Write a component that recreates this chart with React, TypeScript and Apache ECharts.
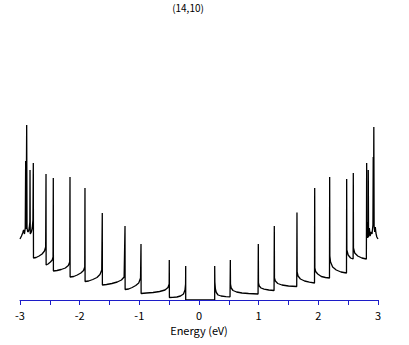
import React, { useEffect, useRef } from "react";
import * as echarts from "echarts";

const chartTitle = "(14,10)";
const axisTitle = "Energy (eV)";
const tickValues = [-3, -2.5, -2, -1.5, -1, -0.5, 0, 0.5, 1, 1.5, 2, 2.5, 3];

// Valence side: [energy (eV), DOS (arb. units)]
const valenceBand: number[][] = [
  [-3.0, 61], [-2.975, 64], [-2.955, 67], [-2.94, 70], [-2.925, 66], [-2.912, 72],
  [-2.905, 72], [-2.905, 139], [-2.898, 71], [-2.888, 71], [-2.888, 175], [-2.882, 72],
  [-2.87, 68], [-2.855, 69], [-2.845, 72], [-2.835, 78], [-2.832, 130], [-2.828, 66],
  [-2.81, 68], [-2.795, 72], [-2.783, 80], [-2.777, 137], [-2.774, 42],
  [-2.73, 42.5], [-2.68, 44], [-2.63, 46], [-2.59, 49], [-2.57, 53], [-2.564, 126], [-2.562, 35],
  [-2.53, 36], [-2.49, 38], [-2.46, 40], [-2.446, 43], [-2.442, 122], [-2.44, 29],
  [-2.38, 29.5], [-2.31, 30.5], [-2.24, 32], [-2.19, 34.5], [-2.167, 38], [-2.162, 123], [-2.16, 23],
  [-2.1, 23.5], [-2.04, 25], [-1.98, 27], [-1.935, 29.5], [-1.915, 33], [-1.911, 112], [-1.909, 18.5],
  [-1.85, 19], [-1.78, 20.5], [-1.71, 22.5], [-1.66, 25.5], [-1.63, 30], [-1.621, 87], [-1.619, 15],
  [-1.55, 15.5], [-1.46, 16.5], [-1.37, 18], [-1.3, 20], [-1.255, 23], [-1.24, 74], [-1.238, 10.5],
  [-1.18, 11], [-1.12, 12.5], [-1.06, 14.5], [-1.01, 17], [-0.98, 22], [-0.972, 56], [-0.97, 6.5],
  [-0.88, 7], [-0.77, 7.5], [-0.66, 8.5], [-0.57, 10], [-0.52, 12.5], [-0.5, 16], [-0.498, 40], [-0.496, 2.5],
  [-0.44, 2.7], [-0.37, 3], [-0.31, 4], [-0.26, 6], [-0.235, 10], [-0.225, 16], [-0.223, 34], [-0.223, 0],
];

// Band gap
const gapBand: number[][] = [
  [-0.223, 0], [0.263, 0],
];

// Conduction side
const conductionBand: number[][] = [
  [0.263, 0], [0.263, 34], [0.266, 18], [0.275, 11], [0.29, 7.5], [0.32, 5], [0.37, 4], [0.45, 3.3], [0.52, 3.2],
  [0.525, 3.2], [0.525, 40], [0.528, 16], [0.54, 12], [0.57, 9.5], [0.63, 8], [0.72, 7], [0.83, 6.5], [0.99, 6],
  [0.994, 6], [0.994, 56], [0.997, 17], [1.01, 14], [1.04, 12], [1.09, 10.8], [1.17, 10], [1.258, 9.5],
  [1.262, 9.5], [1.262, 74], [1.265, 22], [1.28, 19], [1.32, 16.5], [1.39, 15], [1.5, 14], [1.638, 13.5],
  [1.642, 13.5], [1.642, 87.5], [1.645, 28], [1.66, 24], [1.7, 21], [1.77, 19], [1.85, 17.8], [1.936, 17],
  [1.939, 17], [1.939, 112], [1.942, 32], [1.955, 28.5], [1.99, 26], [2.05, 23.5], [2.12, 22.5], [2.187, 22],
  [2.19, 22], [2.19, 123], [2.193, 44], [2.205, 38], [2.24, 33], [2.3, 30], [2.38, 28], [2.472, 27],
  [2.475, 27], [2.475, 121], [2.478, 50], [2.5, 45], [2.54, 42], [2.583, 41],
  [2.586, 41], [2.586, 127], [2.589, 52], [2.61, 47], [2.66, 44], [2.73, 42], [2.805, 41],
  [2.81, 41], [2.81, 137], [2.814, 64], [2.822, 78], [2.828, 62], [2.837, 65], [2.837, 130], [2.842, 63],
  [2.855, 72], [2.868, 64], [2.882, 68], [2.9, 66], [2.915, 75], [2.92, 143], [2.924, 80], [2.93, 173], [2.935, 74],
  [2.945, 68], [2.955, 73], [2.965, 67], [2.98, 63], [3.0, 61],
];

export default function App() {
  const ref = useRef<HTMLDivElement>(null);
  useEffect(() => {
    if (!ref.current) return;
    const chart = echarts.init(ref.current, null, { renderer: "svg" });
    const font = "'Noto Sans CJK JP', 'DejaVu Sans', sans-serif";
    chart.setOption({
      animation: false,
      backgroundColor: "#ffffff",
      title: {
        text: chartTitle,
        left: 188,
        top: 2,
        padding: 0,
        textAlign: "center",
        textStyle: { fontSize: 10, fontWeight: "normal", color: "#000", fontFamily: font },
      },
      grid: { left: 20, right: 31, top: 100, bottom: 45, containLabel: false },
      xAxis: {
        type: "value",
        min: tickValues[0],
        max: tickValues[tickValues.length - 1],
        interval: 0.5,
        z: 5,
        axisLine: { show: true, lineStyle: { color: "#1c1cc8", width: 1 } },
        axisTick: { show: true, inside: false, length: 5, lineStyle: { color: "#1c1cc8", width: 1 } },
        axisLabel: {
          show: true,
          margin: 9,
          color: "#000",
          fontSize: 11,
          fontFamily: font,
          formatter: (v: number) => (Number.isInteger(v) ? String(v) : ""),
        },
        splitLine: { show: false },
        name: axisTitle,
        nameLocation: "middle",
        nameGap: 23,
        nameTextStyle: { color: "#000", fontSize: 11, fontFamily: font },
      },
      yAxis: { type: "value", min: 0, max: 200, show: false },
      series: [
        {
          type: "line",
          data: [...valenceBand, ...gapBand, ...conductionBand],
          showSymbol: false,
          symbol: "none",
          lineStyle: { color: "#000", width: 1.3 },
          clip: true,
        },
      ],
    });
    return () => chart.dispose();
  }, []);
  return (
    <div
      ref={ref}
      style={{ position: "fixed", left: 0, top: 0, width: 409, height: 345, background: "#fff" }}
    />
  );
}
